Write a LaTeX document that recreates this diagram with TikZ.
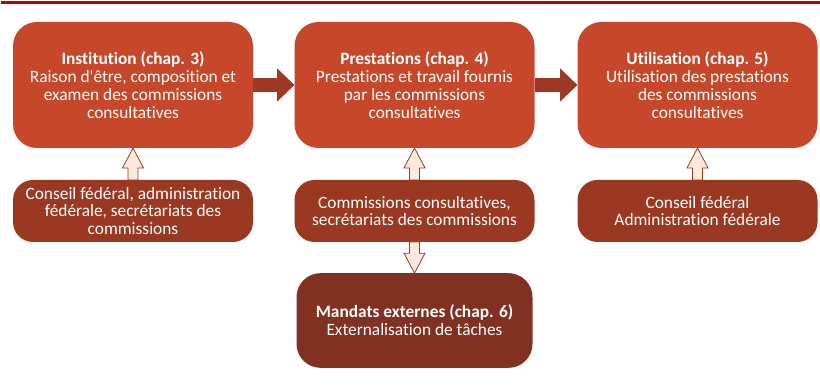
\documentclass[tikz,border=0pt]{standalone}
\usepackage{fontspec}
\setmainfont{Carlito}[Ligatures={TeX,NoCommon}]
\usetikzlibrary{calc,arrows.meta}
\definecolor{colorMain}{RGB}{199,71,42}
\definecolor{colorActor}{RGB}{155,56,34}
\definecolor{colorExt}{RGB}{128,49,33}
\definecolor{colorFlow}{RGB}{157,57,36}
\definecolor{colorHollow}{RGB}{253,234,218}
\definecolor{colorRule}{RGB}{192,0,0}
\tikzset{
   every node/.style={text=white,align=center,inner sep=0pt,outer sep=0pt,
     font=\fontsize{13}{13.4}\selectfont},
   phase/.style={fill=colorMain,rounded corners=18pt,minimum width=180pt,minimum height=94.5pt},
   actor/.style={fill=colorActor,rounded corners=15pt,minimum width=180pt,minimum height=46.5pt},
   extern/.style={fill=colorExt,rounded corners=18pt,minimum width=177pt,minimum height=71pt},
   flow/.style={-{Triangle[width=24pt,length=13pt]},line width=11pt,color=colorFlow},
   hollow/.style={fill=colorHollow,draw=colorFlow,line width=0.6pt,line join=miter},
}
% vertical block arrow: base #1, tip #2, #3 = 1 (up) or -1 (down)
\newcommand{\vblock}[3]{%
  \draw[hollow] ($(#1)+(-5,0)$) -- ($(#2)+(-5,{-20*(#3)})$) -- ($(#2)+(-10.5,{-20*(#3)})$)
    -- (#2) -- ($(#2)+(10.5,{-20*(#3)})$) -- ($(#2)+(5,{-20*(#3)})$) -- ($(#1)+(5,0)$) -- cycle;}

\begin{document}
\begin{tikzpicture}[x=0.75pt,y=0.75pt]
      \useasboundingbox (0,0) rectangle (820,388);
      \draw[colorRule,line width=2pt] (1,385.5) -- (820,385.5);
      \node[phase] (inst) at (133,303) {\textbf{Institution (chap. 3)}\\Raison d\textquotesingle être, composition et\\examen des commissions\\consultatives};
      \node[phase] (prest) at (414.5,303) {\textbf{Prestations (chap. 4)}\\Prestations et travail fournis\\par les commissions\\consultatives};
      \node[phase] (util) at (697.5,303) {\textbf{Utilisation (chap. 5)}\\Utilisation des prestations\\des commissions\\consultatives};
      \node[actor] (govA) at (133,177) {Conseil fédéral, administration\\fédérale, secrétariats des\\commissions};
      \node[actor] (comm) at (414.5,177) {Commissions consultatives,\\secrétariats des commissions};
      \node[actor] (govB) at (697.5,177) {Conseil fédéral\\Administration fédérale};
      \node[extern] (ext) at (414.5,67.5) {\textbf{Mandats externes (chap. 6)}\\Externalisation de tâches};
      \draw[flow] (inst) -- (prest);
      \draw[flow] (prest) -- (util);
      \vblock{govA.north}{inst.south}{1}
      \vblock{comm.north}{prest.south}{1}
      \vblock{govB.north}{util.south}{1}
      \vblock{comm.south}{ext.north}{-1}
    \end{tikzpicture}
\end{document}
